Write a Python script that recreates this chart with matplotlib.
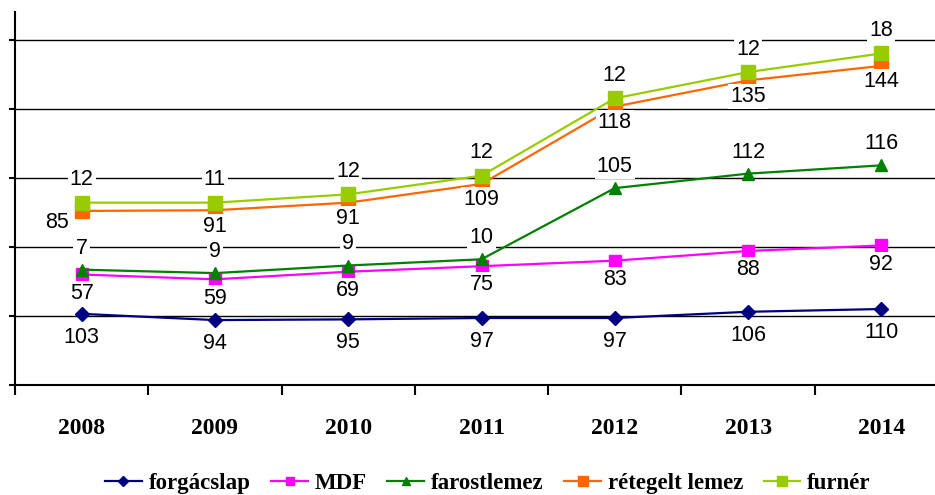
import matplotlib
matplotlib.use("Agg")
import matplotlib.pyplot as plt
import numpy as np

years = ["2008", "2009", "2010", "2011", "2012", "2013", "2014"]
forgacslap = [103, 94, 95, 97, 97, 106, 110]
mdf = [57, 59, 69, 75, 83, 88, 92]
farostlemez = [7, 9, 9, 10, 105, 112, 116]
retegelt = [85, 91, 91, 109, 118, 135, 144]
furner = [12, 11, 12, 12, 12, 12, 18]

names = ["forgácslap", "MDF", "farostlemez", "rétegelt lemez", "furnér"]
series = [forgacslap, mdf, farostlemez, retegelt, furner]
colors = ["#000080", "#FF00FF", "#008000", "#FF6600", "#99CC00"]
markers = ["D", "s", "^", "s", "s"]
msizes = [7, 8.5, 8.5, 9.5, 10]
label_dy = [-17, -13.5, 15.5, -11.5, 16.5]  # points

W, H = 935, 495
fig = plt.figure(figsize=(W / 100, H / 100), dpi=100)
left_px, right_px, top_px, bot_px = 15, 948, 12, 385
ax = fig.add_axes([left_px / W, 1 - bot_px / H, (right_px - left_px) / W, (bot_px - top_px) / H])

x = np.arange(len(years))
ax.set_xlim(-0.5, len(years) - 0.5)
ax.set_ylim(0, 540)
ax.set_yticks([0, 100, 200, 300, 400, 500])
ax.set_yticklabels([])
ax.tick_params(axis="y", length=4, width=1.5, direction="out", color="black")
for yv in [100, 200, 300, 400, 500]:
    ax.axhline(yv, color="black", lw=1.0, zorder=0)

for s in ["top", "right"]:
    ax.spines[s].set_visible(False)
for s in ["left", "bottom"]:
    ax.spines[s].set_linewidth(1.5)
    ax.spines[s].set_color("black")

ax.set_xticks(x)
ax.set_xticklabels(years, fontfamily="Liberation Serif", fontweight="bold", fontsize=17)
ax.tick_params(axis="x", which="major", length=0, pad=24)
ax.set_xticks(np.arange(-0.5, len(years), 1.0), minor=True)
ax.tick_params(axis="x", which="minor", length=7, width=1.5, direction="out", color="black")

cum = np.zeros(len(years))
for i, (name, vals) in enumerate(zip(names, series)):
    cum = cum + np.array(vals)
    ax.plot(x, cum, color=colors[i], lw=1.6, marker=markers[i], markersize=msizes[i],
            markeredgecolor=colors[i], markerfacecolor=colors[i], label=name, zorder=3 + i,
            clip_on=False)
    for j, v in enumerate(vals):
        dx = 0
        dy = label_dy[i]
        if i == 3 and j == 0:
            dx, dy = -18, -8
        ax.annotate(str(v), (x[j], cum[j]), xytext=(dx, dy), textcoords="offset points",
                    ha="center", va="center", fontsize=15.5, fontfamily="Liberation Sans",
                    color="black", zorder=10,
                    bbox=dict(boxstyle="square,pad=0.1", fc="white", ec="none"))

leg = fig.legend(loc="center", bbox_to_anchor=(488 / W, 12 / H),
                 ncol=5, frameon=False, handlelength=1.6, handletextpad=0.3, columnspacing=0.9,
                 prop=dict(family="Liberation Serif", weight="bold", size=16.5), markerscale=0.7)

fig.savefig("out.png", dpi=100)
